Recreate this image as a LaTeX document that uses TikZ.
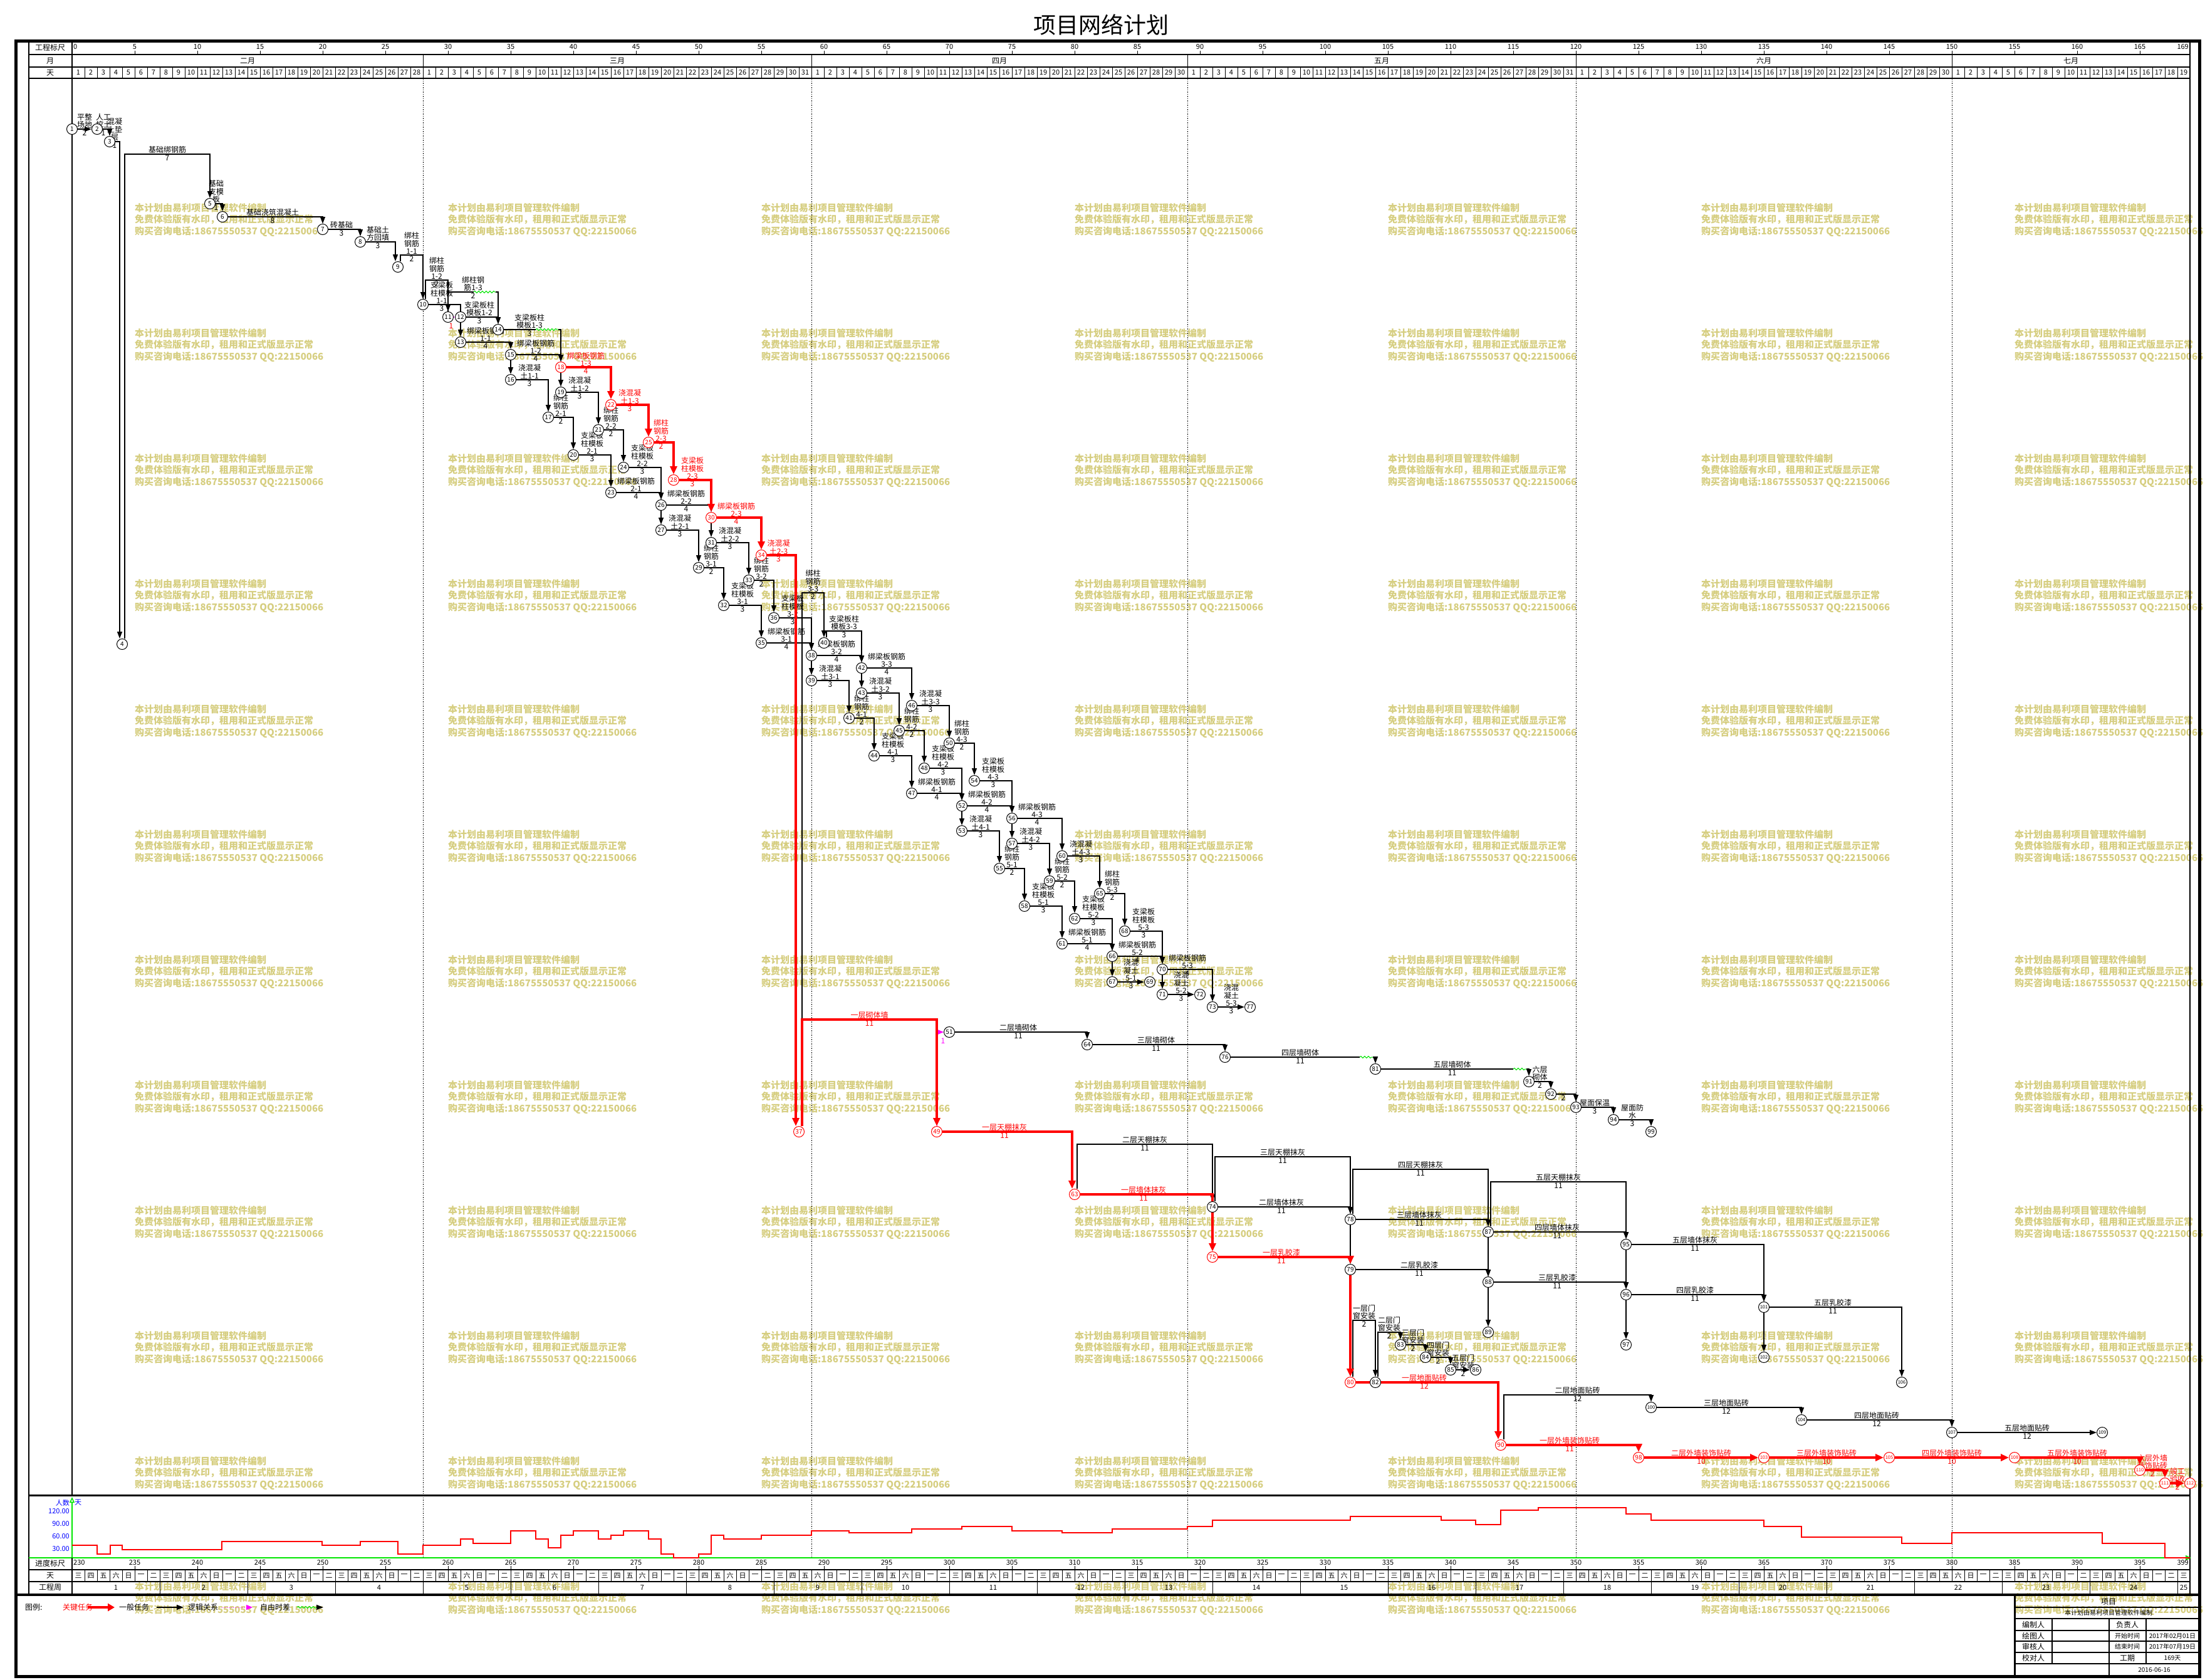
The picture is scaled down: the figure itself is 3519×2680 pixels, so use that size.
\documentclass[tikz,border=0pt]{standalone}
\usepackage{fontspec}
\setmainfont{Noto Sans CJK SC}
\usetikzlibrary{arrows.meta,calc,decorations.pathmorphing}
\pgfdeclarelayer{bg}\pgfdeclarelayer{mid}\pgfsetlayers{bg,mid,main}
\definecolor{wmc}{RGB}{214,206,128}
\definecolor{grn}{RGB}{0,230,0}
\definecolor{mag}{RGB}{255,0,255}
\definecolor{axb}{RGB}{0,0,255}
\newcounter{lc}
\newcommand\wkc[1]{\ifcase#1 三\or 四\or 五\or 六\or 日\or 一\or 二\fi}
\newcommand\ND[3]{\node[nd] (n#1) at (#2,#3) {#1};}
\newcommand\NR[3]{\node[nd,ndr] (n#1) at (#2,#3) {#1};}
\newcommand\NB[3]{\node[nd,nds] (n#1) at (#2,#3) {#1};}
\newcommand\NBR[3]{\node[nd,nds,ndr] (n#1) at (#2,#3) {#1};}
\newcommand\ACT[5][ed]{%
  \draw[#1] (#2) -| (#3);
  \stepcounter{lc}%
  \path let \p1=(#2), \p2=(#3) in
    node[lab,#1-lab] (la\thelc) at ({0.5*\x1+0.5*\x2},\y1) {#4}
    node[dur,#1-lab] (ld\thelc) at ({0.5*\x1+0.5*\x2},\y1) {#5};}
\newcommand\ACTU[6][ed]{%
  \draw[#1] let \p1=(#2), \p2=(#3), \p3=(0,#4) in (#2) |- (\x2,\y3) -- (#3);
  \stepcounter{lc}%
  \path let \p1=(#2), \p2=(#3), \p3=(0,#4) in
    node[lab,#1-lab] (la\thelc) at ({0.5*\x1+0.5*\x2},\y3) {#5}
    node[dur,#1-lab] (ld\thelc) at ({0.5*\x1+0.5*\x2},\y3) {#6};}
\newcommand\ACTH[5][ed]{%
  \draw[#1] (#2) -- (#3);
  \stepcounter{lc}%
  \path let \p1=(#2), \p2=(#3) in
    node[lab,#1-lab] (la\thelc) at ({0.5*\x1+0.5*\x2},\y1) {#4}
    node[dur,#1-lab] (ld\thelc) at ({0.5*\x1+0.5*\x2},\y1) {#5};}
\newcommand\DUM[2]{\draw[ed] (#1) -- (#2);}
\begin{document}
\begin{tikzpicture}[x=1pt,y=-1pt,
  nd/.style={circle,draw,line width=1pt,fill=white,minimum size=17pt,inner sep=0pt,font=\fontsize{10}{10}\selectfont},
  ndr/.style={draw=red,text=red},
  nds/.style={font=\fontsize{7.5}{8}\selectfont},
  ed/.style={draw=black,line width=1.3pt,-{Triangle[length=11pt,width=8pt]}},
  cr/.style={draw=red,line width=4pt,-{Triangle[length=13pt,width=11pt]}},
  logic/.style={draw=mag,dashed,line width=1pt,-{Triangle[length=10pt,width=8pt]}},
  ed-lab/.style={},
  cr-lab/.style={text=red},
  lab/.style={font=\fontsize{12}{12.5}\selectfont,align=center,anchor=south,inner sep=1pt},
  dur/.style={font=\fontsize{12}{12}\selectfont,anchor=north,inner sep=2pt},
  hdr/.style={font=\fontsize{12}{12}\selectfont,inner sep=0pt},
  dayf/.style={font=\fontsize{11}{11}\selectfont,inner sep=0pt},
  scf/.style={font=\fontsize{11}{11}\selectfont,inner sep=0pt},
  wm/.style={anchor=north west,align=left,inner sep=0pt,text=wmc,font=\fontsize{15}{18.5}\selectfont\bfseries},
  tb/.style={font=\fontsize{12}{12}\selectfont,inner sep=0pt},
  tbv/.style={font=\fontsize{10}{10}\selectfont,inner sep=0pt},
  grid/.style={line width=0.8pt,dash pattern=on 1.5pt off 2pt},
  ]
\useasboundingbox (0,0) rectangle (3519,2680);
\begin{pgfonlayer}{bg}
\fill[white] (0,0) rectangle (3519,2680);
\foreach \r in {0,...,11}{\foreach \c in {0,...,6}{
  \node[wm] (wm-\r-\c) at ({215+500*\c},{324+200*\r}) {本计划由易利项目管理软件编制\\免费体验版有水印，租用和正式版显示正常\\购买咨询电话:18675550537 QQ:22150066};}}
\foreach \x in {675,1295,1895,2515,3115}{\draw[grid] (\x,125) -- (\x,2486);}
\end{pgfonlayer}

% title
\node[font=\fontsize{36}{36}\selectfont] (title) at (1757,40) {项目网络计划};
% frame
\draw[line width=5pt] (25,65) rectangle (3510,2675);
\draw[line width=1.5pt] (46,65) -- (46,2545);
\draw[line width=1.5pt] (3495,65) -- (3495,2545);
\draw[line width=1.2pt] (115,65) -- (115,2386);
\draw[line width=1.2pt] (46,87) -- (3495,87);
\draw[line width=1.2pt] (46,107) -- (3495,107);
\draw[line width=1.5pt] (46,125) -- (3495,125);
\draw[line width=3pt] (46,2386) -- (3495,2386);
\draw[line width=4pt] (25,2545) -- (3510,2545);
% header labels
\node[hdr] (h1) at (80,76) {工程标尺};
\node[hdr] (h2) at (80,97) {月};
\node[hdr] (h3) at (80,116) {天};
\node[scf,anchor=west] (s0) at (117,75) {0};
\foreach \d in {5,10,...,165}{\draw[line width=0.8pt] ({115+20*\d},81) -- ({115+20*\d},87);
  \node[scf] (s\d) at ({115+20*\d},75) {\d};}
\node[scf,anchor=east] (s169) at (3493,75) {169};
\foreach \x in {675,1295,1895,2515,3115}{\draw[line width=1pt] (\x,87) -- (\x,107);}
\node[hdr] (m2) at (395,97) {二月};
\node[hdr] (m3) at (985,97) {三月};
\node[hdr] (m4) at (1595,97) {四月};
\node[hdr] (m5) at (2205,97) {五月};
\node[hdr] (m6) at (2815,97) {六月};
\node[hdr] (m7) at (3305,97) {七月};
\foreach \i in {1,...,168}{\draw[line width=0.7pt] ({115+20*\i},107) -- ({115+20*\i},125);}
\foreach \s/\n in {0/28,28/31,59/30,89/31,120/30,150/19}{
  \foreach \k in {1,...,\n}{\node[dayf] (d\s-\k) at ({115+20*(\s+\k-1)+10},116) {\k};}}

% bottom rows
\draw[grn,line width=1.5pt,-{Triangle[open,length=9pt,width=8pt]}] (46,2486) -- (3497,2486);
\draw[grn,line width=1.5pt,-{Triangle[open,length=9pt,width=8pt]}] (115,2486) -- (115,2389);
\draw[line width=1.2pt] (115,2486) -- (115,2545);
\draw[line width=1.2pt] (46,2505) -- (3495,2505);
\draw[line width=1.2pt] (46,2524) -- (3495,2524);
\node[hdr] (b1) at (80,2495) {进度标尺};
\node[hdr] (b2) at (80,2514.5) {天};
\node[hdr] (b3) at (80,2533.5) {工程周};
\node[scf,anchor=west] (bs0) at (117,2494) {230};
\foreach \d in {5,10,...,165}{\pgfmathtruncatemacro\v{230+\d}
  \draw[line width=0.8pt] ({115+20*\d},2499) -- ({115+20*\d},2505);
  \node[scf] (bs\d) at ({115+20*\d},2494) {\v};}
\node[scf,anchor=east] (bs169) at (3493,2494) {399};
\foreach \i in {1,...,168}{\draw[line width=0.7pt] ({115+20*\i},2505) -- ({115+20*\i},2524);}
\foreach \i in {0,...,168}{\pgfmathtruncatemacro\w{mod(\i,7)}
  \node[dayf] (wd\i) at ({125+20*\i},2514.5) {\wkc{\w}};}
\foreach \k in {1,...,24}{\draw[line width=0.8pt] ({115+140*\k},2524) -- ({115+140*\k},2543);
  \node[dayf] (wk\k) at ({115+140*(\k-1)+70},2533.5) {\k};}
\node[dayf] (wk25) at (3485,2533.5) {25};
% resource axis
\node[dayf,text=axb,anchor=east] (ra1) at (111,2398) {人数};
\node[dayf,text=axb,anchor=west] (ra2) at (119,2398) {天};
\node[dayf,text=axb,anchor=east] (ra3) at (111,2412) {120.00};
\node[dayf,text=axb,anchor=east] (ra4) at (111,2432) {90.00};
\node[dayf,text=axb,anchor=east] (ra5) at (111,2452) {60.00};
\node[dayf,text=axb,anchor=east] (ra6) at (111,2472) {30.00};
\draw[red,line width=1.5pt] plot[const plot] coordinates {(115,2466) (155,2480) (176,2466) (195,2473) (354,2460) (514,2466) (575,2460) (635,2480) (675,2466) (735,2456) (755,2463) (815,2443) (855,2456) (875,2470) (895,2450) (915,2443) (955,2456) (975,2450) (995,2443) (1035,2456) (1055,2480) (1075,2486) (1115,2480) (1135,2450) (1155,2456) (1215,2450) (1295,2443) (1355,2446) (1455,2440) (1535,2436) (1615,2443) (1695,2446) (1775,2440) (1895,2436) (1935,2426) (2155,2420) (2300,2426) (2355,2433) (2395,2410) (2455,2406) (2595,2416) (2635,2426) (2815,2436) (2875,2453) (3035,2463) (3115,2446) (3355,2463) (3455,2486) (3495,2486)};

% legend
\node[tb,anchor=west] (lg1) at (40,2565) {图例:};
\node[tb,anchor=west,text=red] (lg2) at (100,2565) {关键任务};
\coordinate (la1) at (140,2565); \coordinate (la2) at (183,2565);
\draw[red,line width=4pt,-{Triangle[length=11pt,width=12pt]}] (la1) -- (la2);
\node[tb,anchor=west] (lg3) at (190,2565) {一般任务};
\coordinate (lb1) at (250,2565); \coordinate (lb2) at (293,2565);
\draw[ed] (lb1) -- (lb2);
\node[tb,anchor=west] (lg4) at (300,2565) {逻辑关系};
\coordinate (lc1) at (354,2565); \coordinate (lc2) at (403,2565);
\draw[logic,dotted] (lc1) -- (lc2);
\node[tb,anchor=west] (lg5) at (415,2565) {自由时差};
\coordinate (ld1) at (474,2565); \coordinate (ld2) at (506,2565); \coordinate (ld3) at (516,2565);
\draw[grn,line width=1pt,decorate,decoration={snake,amplitude=1.5pt,segment length=6pt}] (ld1) -- (ld2);
\draw[ed] (ld2) -- (ld3);

% title block
\draw[line width=3pt] (3215,2545) -- (3215,2675);
\foreach \y in {2565,2583,2602,2619,2637,2655}{\draw[line width=1.2pt] (3215,\y) -- (3510,\y);}
\draw[line width=1.2pt] (3275,2583) -- (3275,2655);
\draw[line width=1.2pt] (3366,2583) -- (3366,2675);
\draw[line width=1.2pt] (3425,2583) -- (3425,2655);
\node[tb] (t1) at (3365,2556) {项目};
\node[tbv] (t2) at (3365,2574) {本计划由易利项目管理软件编制};
\node[tb] (t3) at (3245,2592.5) {编制人};
\node[tb] (t4) at (3395,2592.5) {负责人};
\node[tb] (t5) at (3245,2610.5) {绘图人};
\node[tbv] (t6) at (3395,2610.5) {开始时间};
\node[tbv] (t7) at (3467,2610.5) {2017年02月01日};
\node[tb] (t8) at (3245,2628) {审核人};
\node[tbv] (t9) at (3395,2628) {结束时间};
\node[tbv] (t10) at (3467,2628) {2017年07月19日};
\node[tb] (t11) at (3245,2646) {校对人};
\node[tb] (t12) at (3395,2646) {工期};
\node[tbv] (t13) at (3467,2646) {169天};
\node[tbv] (t14) at (3438,2665) {2016-06-16};

% ---------------- nodes
\ND{1}{115}{206}\ND{2}{155}{206}\ND{3}{175}{226}\ND{4}{195}{1028}\ND{5}{335}{325}
\ND{6}{355}{346}\ND{7}{515}{366}\ND{8}{575}{386}\ND{9}{635}{426}\ND{10}{675}{486}
\ND{11}{715}{506}\ND{12}{735}{506}\ND{13}{735}{546}\ND{14}{795}{526}\ND{15}{815}{566}
\ND{16}{815}{606}\ND{17}{875}{666}\NR{18}{895}{586}\ND{19}{895}{626}\ND{20}{915}{726}
\ND{21}{955}{686}\NR{22}{975}{646}\ND{23}{975}{786}\ND{24}{995}{746}\NR{25}{1035}{706}
\ND{26}{1055}{806}\ND{27}{1055}{846}\NR{28}{1075}{766}\ND{29}{1115}{906}\NR{30}{1135}{826}
\ND{31}{1135}{866}\ND{32}{1155}{966}\ND{33}{1195}{926}\NR{34}{1215}{886}\ND{35}{1215}{1026}
\ND{36}{1235}{986}\NR{37}{1275}{1806}\ND{38}{1295}{1046}\ND{39}{1295}{1086}\ND{40}{1315}{1026}
\ND{41}{1355}{1146}\ND{42}{1375}{1066}\ND{43}{1375}{1106}\ND{44}{1395}{1206}\ND{45}{1435}{1166}
\ND{46}{1455}{1126}\ND{47}{1455}{1266}\ND{48}{1475}{1226}\NR{49}{1495}{1806}\ND{50}{1515}{1186}
\ND{51}{1515}{1647}\ND{52}{1535}{1286}\ND{53}{1535}{1326}\ND{54}{1555}{1246}\ND{55}{1595}{1386}
\ND{56}{1615}{1306}\ND{57}{1615}{1346}\ND{58}{1635}{1446}\ND{59}{1675}{1406}\ND{60}{1695}{1366}
\ND{61}{1695}{1506}\ND{62}{1715}{1466}\NR{63}{1715}{1906}\ND{64}{1735}{1667}\ND{65}{1755}{1426}
\ND{66}{1775}{1526}\ND{67}{1775}{1567}\ND{68}{1795}{1486}\ND{69}{1835}{1567}\ND{70}{1855}{1547}
\ND{71}{1855}{1587}\ND{72}{1915}{1587}\ND{73}{1935}{1607}\ND{74}{1935}{1926}\NR{75}{1935}{2006}
\ND{76}{1955}{1687}\ND{77}{1995}{1607}\ND{78}{2155}{1946}\ND{79}{2155}{2026}\NR{80}{2155}{2206}
\ND{81}{2195}{1706}\ND{82}{2195}{2206}\ND{83}{2235}{2146}\ND{84}{2275}{2166}\ND{85}{2315}{2186}
\ND{86}{2355}{2186}\ND{87}{2375}{1966}\ND{88}{2375}{2046}\ND{89}{2375}{2126}\NR{90}{2395}{2306}
\ND{91}{2440}{1726}\ND{92}{2475}{1746}\ND{93}{2515}{1767}\ND{94}{2575}{1787}\ND{95}{2595}{1986}
\ND{96}{2595}{2066}\ND{97}{2595}{2146}\NR{98}{2615}{2326}\ND{99}{2635}{1806}\NB{100}{2635}{2246}
\NB{101}{2815}{2086}\NB{102}{2815}{2166}\NBR{103}{2815}{2326}\NB{104}{2875}{2266}\NBR{105}{3015}{2326}
\NB{106}{3035}{2206}\NB{107}{3115}{2286}\NBR{108}{3215}{2326}\NB{109}{3355}{2286}\NBR{110}{3415}{2346}
\NBR{111}{3455}{2367}\NBR{112}{3495}{2367}

% ---------------- activities
\begin{pgfonlayer}{mid}
\ACTH{n1}{n2}{平整\\场地}{2}
\ACT{n2}{n3}{人工\\挖土}{1}
\ACT{n3}{[xshift=-4pt]n4.north}{混凝\\土垫\\层}{1}
\ACTU{[xshift=4pt]n4.north}{n5}{246}{基础绑钢筋}{7}
\ACT{n5}{n6}{基础\\支模\\板}{1}
\ACT{n6}{n7}{基础浇筑混凝土}{8}
\ACT{n7}{n8}{砖基础}{3}
\ACT{n8}{[xshift=-4pt]n9.north}{基础土\\方回填}{3}
\ACTU{[xshift=4pt]n9.north}{n10}{407}{绑柱\\钢筋\\1-1}{2}
\ACTU{[xshift=4pt]n10.north}{n11}{447}{绑柱\\钢筋\\1-2}{2}
\ACT{n10}{n13}{支梁板\\柱模板\\1-1}{3}
\ACTU{n11}{n14}{466}{绑柱钢\\筋1-3}{2}
\draw[logic,solid] (n11) -- (n12);
\node[dur,text=red] (x1) at (720,514) {1};
\ACT{n12}{n14}{支梁板柱\\模板1-2}{3}
\ACT{n13}{n15}{绑梁板钢筋\\1-1}{4}
\ACT{n14}{n18}{支梁板柱\\模板1-3}{3}
\ACT{n15}{n18}{绑梁板钢筋\\1-2}{4}
\DUM{n15}{n16}
\ACT{n16}{n17}{浇混凝\\土1-1}{3}
\DUM{n18}{n19}
\ACT{n19}{n21}{浇混凝\\土1-2}{3}
\ACT{n17}{n20}{绑柱\\钢筋\\2-1}{2}
\ACT{n20}{n23}{支梁板\\柱模板\\2-1}{3}
\ACT{n21}{n24}{绑柱\\钢筋\\2-2}{2}
\ACT{n24}{n26}{支梁板\\柱模板\\2-2}{3}
\ACT{n23}{n26}{绑梁板钢筋\\2-1}{4}
\DUM{n26}{n27}
\ACT{n26}{n30}{绑梁板钢筋\\2-2}{4}
\ACT{n27}{n29}{浇混凝\\土2-1}{3}
\DUM{n30}{n31}
\ACT{n31}{n33}{浇混凝\\土2-2}{3}
\ACT{n29}{n32}{绑柱\\钢筋\\3-1}{2}
\ACT{n32}{n35}{支梁板\\柱模板\\3-1}{3}
\ACT{n33}{n36}{绑柱\\钢筋\\3-2}{2}
\ACT{n35}{n38}{绑梁板钢筋\\3-1}{4}
\ACT{n36}{n38}{支梁板\\柱模板\\3-2}{3}
\ACTU{[xshift=5pt]n37.north}{n40}{946}{绑柱\\钢筋\\3-3}{2}
\DUM{n38}{n39}
\ACT{n38}{n42}{绑梁板钢筋\\3-2}{4}
\ACTU{[xshift=4pt]n40.north}{n42}{1007}{支梁板柱\\模板3-3}{3}
\ACT{n39}{n41}{浇混凝\\土3-1}{3}
\DUM{n42}{n43}
\ACT{n42}{n46}{绑梁板钢筋\\3-3}{4}
\ACT{n43}{n45}{浇混凝\\土3-2}{3}
\ACT{n41}{n44}{绑柱\\钢筋\\4-1}{2}
\ACT{n44}{n47}{支梁板\\柱模板\\4-1}{3}
\ACT{n45}{n48}{绑柱\\钢筋\\4-2}{2}
\ACT{n46}{n50}{浇混凝\\土3-3}{3}
\ACT{n47}{n52}{绑梁板钢筋\\4-1}{4}
\ACT{n48}{n52}{支梁板\\柱模板\\4-2}{3}
\ACT{n50}{n54}{绑柱\\钢筋\\4-3}{2}
\DUM{n52}{n53}
\ACT{n52}{n56}{绑梁板钢筋\\4-2}{4}
\ACT{n54}{n56}{支梁板\\柱模板\\4-3}{3}
\ACT{n53}{n55}{浇混凝\\土4-1}{3}
\DUM{n56}{n57}
\ACT{n56}{n60}{绑梁板钢筋\\4-3}{4}
\ACT{n57}{n59}{浇混凝\\土4-2}{3}
\ACT{n55}{n58}{绑柱\\钢筋\\5-1}{2}
\ACT{n58}{n61}{支梁板\\柱模板\\5-1}{3}
\ACT{n59}{n62}{绑柱\\钢筋\\5-2}{2}
\ACT{n60}{n65}{浇混凝\\土4-3}{3}
\ACT{n61}{n66}{绑梁板钢筋\\5-1}{4}
\ACT{n62}{n66}{支梁板\\柱模板\\5-2}{3}
\ACT{n65}{n68}{绑柱\\钢筋\\5-3}{2}
\DUM{n66}{n67}
\ACT{n66}{n70}{绑梁板钢筋\\5-2}{4}
\ACT{n68}{n70}{支梁板\\柱模板\\5-3}{3}
\ACTH{n67}{n69}{浇混\\凝土\\5-1}{3}
\DUM{n70}{n71}
\ACT{n70}{n73}{绑梁板钢筋\\5-3}{4}
\ACTH{n71}{n72}{浇混\\凝土\\5-2}{3}
\ACTH{n73}{n77}{浇混\\凝土\\5-3}{3}
% walls
\draw[logic] (n49) |- (n51);
\node[dur,text=mag] (x2) at (1505,1655) {1};
\ACT{n51}{n64}{二层墙砌体}{11}
\ACT{n64}{n76}{三层墙砌体}{11}
\ACT{n76}{n81}{四层墙砌体}{11}
\ACT{n81}{n91}{五层墙砌体}{11}
\ACT{n91}{n92}{六层\\砌体}{2}
\ACT{n92}{n93}{}{2}
\ACT{n93}{n94}{屋面保温}{3}
\ACT{n94}{n99}{屋面防\\水}{3}
% plaster
\ACTU{[xshift=4pt]n63.north}{n74}{1826}{二层天棚抹灰}{11}
\ACT{n74}{n78}{二层墙体抹灰}{11}
\ACTU{[xshift=4pt]n74.north}{n78}{1846}{三层天棚抹灰}{11}
\ACT{n78}{n87}{三层墙体抹灰}{11}
\ACTU{[xshift=4pt]n78.north}{n87}{1866}{四层天棚抹灰}{11}
\ACT{n87}{n95}{四层墙体抹灰}{11}
\ACTU{[xshift=4pt]n87.north}{n95}{1886}{五层天棚抹灰}{11}
\ACT{n95}{n101}{五层墙体抹灰}{11}
\DUM{n78}{n79}
\ACT{n79}{n88}{二层乳胶漆}{11}
\ACT{n88}{n96}{三层乳胶漆}{11}
\ACT{n96}{n101}{四层乳胶漆}{11}
\ACT{n101}{n106}{五层乳胶漆}{11}
\DUM{n87}{n88}\DUM{n88}{n89}\DUM{n95}{n96}\DUM{n96}{n97}\DUM{n101}{n102}
\ACTU{[xshift=4pt]n80.north}{n82}{2107}{一层门\\窗安装}{2}
\ACTU{[xshift=4pt]n82.north}{n83}{2126}{二层门\\窗安装}{2}
\ACT{n83}{n84}{三层门\\窗安装}{2}
\ACT{n84}{n85}{四层门\\窗安装}{2}
\ACTH{n85}{n86}{五层门\\窗安装}{2}
\ACTU{[xshift=5pt]n90.north}{n100}{2226}{二层地面贴砖}{12}
\ACT{n100}{n104}{三层地面贴砖}{12}
\ACT{n104}{n107}{四层地面贴砖}{12}
\ACTH{n107}{n109}{五层地面贴砖}{12}
% critical path
\ACT[cr]{n18}{n22}{绑梁板钢筋\\1-3}{4}
\ACT[cr]{n22}{n25}{浇混凝\\土1-3}{3}
\ACT[cr]{n25}{n28}{绑柱\\钢筋\\2-3}{2}
\ACT[cr]{n28}{n30}{支梁板\\柱模板\\2-3}{3}
\ACT[cr]{n30}{n34}{绑梁板钢筋\\2-3}{4}
\ACT[cr]{n34}{[xshift=-5pt]n37.north}{浇混凝\\土2-3}{3}
\ACTU[cr]{[xshift=5pt]n37.north}{n49}{1627}{一层砌体墙}{11}
\ACT[cr]{n49}{[xshift=-4pt]n63.north}{一层天棚抹灰}{11}
\ACT[cr]{n63}{n75}{一层墙体抹灰}{11}
\ACT[cr]{n75}{n79}{一层乳胶漆}{11}
\draw[cr] (n79) -- (n80);
\ACT[cr]{n80}{[xshift=-4pt]n90.north}{一层地面贴砖}{12}
\ACT[cr]{n90}{n98}{一层外墙装饰贴砖}{11}
\ACTH[cr]{n98}{n103}{二层外墙装饰贴砖}{10}
\ACTH[cr]{n103}{n105}{三层外墙装饰贴砖}{10}
\ACTH[cr]{n105}{n108}{四层外墙装饰贴砖}{10}
\ACT[cr]{n108}{n110}{五层外墙装饰贴砖}{10}
\ACT[cr]{n110}{n111}{六层外墙\\装饰贴砖}{2}
\ACTH[cr]{n111}{n112}{竣工\\验收}{2}
% free float
\foreach \a/\b/\y in {756/791/466,855/891/526,2170/2191/1687,2415/2436/1706}{
  \draw[white,line width=2.5pt] (\a,\y) -- (\b,\y);
  \draw[grn,line width=1pt,decorate,decoration={snake,amplitude=1.5pt,segment length=6pt}] (\a,\y) -- (\b,\y);}
\end{pgfonlayer}
\end{tikzpicture}
\end{document}
